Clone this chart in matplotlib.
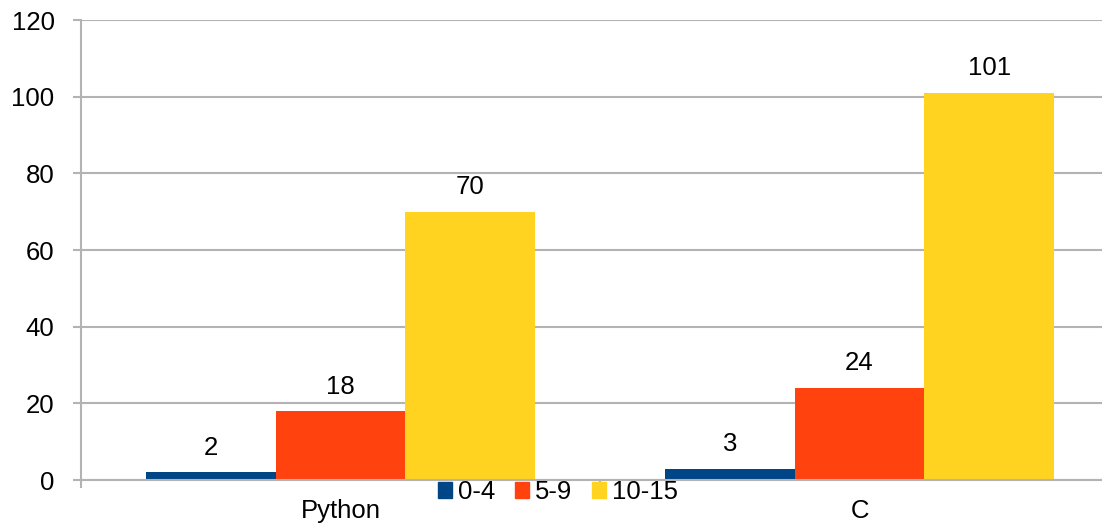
import matplotlib.pyplot as plt
from matplotlib.patches import Patch
import numpy as np

plt.rcParams['font.family'] = ['Liberation Sans', 'DejaVu Sans']
plt.rcParams['font.size'] = 18.5

languages = ['Python', 'C']
groups = ['0-4', '5-9', '10-15']
counts = {
    '0-4': [2, 3],
    '5-9': [18, 24],
    '10-15': [70, 101],
}
colors = ['#004586', '#ff420e', '#ffd320']
grid_col = '#b3b3b3'

fig = plt.figure(figsize=(11.02, 5.28), dpi=100)
# plot area runs a little past the right edge of the canvas
ax = fig.add_axes([81/1102, 48/528, 1038/1102, 460/528])

width = 0.25
centers = np.arange(len(languages)) + 0.5
for i, (g, c) in enumerate(zip(groups, colors)):
    xs = centers + (i - 1) * width
    ax.bar(xs, counts[g], width=width, color=c, zorder=3)
    for x, v in zip(xs, counts[g]):
        ax.annotate(str(v), xy=(x, v), xytext=(0, 9), textcoords='offset points',
                    ha='center', va='bottom')

ax.set_xlim(0, len(languages))
ax.set_ylim(0, 120)
ax.set_yticks(range(0, 121, 20))
ax.yaxis.grid(True, color=grid_col, lw=1.5, zorder=0)

ax.set_xticks(np.arange(len(languages) + 1))
ax.set_xticklabels([])
ax.set_xticks(centers, minor=True)
ax.set_xticklabels(languages, minor=True)
ax.tick_params(axis='x', which='minor', length=0, pad=14)
ax.tick_params(axis='x', which='major', length=6, color=grid_col, width=1.5)
ax.tick_params(axis='y', length=6, color=grid_col, width=1.5, pad=13)

for side in ['top', 'right']:
    ax.spines[side].set_visible(False)
for side in ['left', 'bottom']:
    ax.spines[side].set_color(grid_col)
    ax.spines[side].set_linewidth(1.5)
ax.spines['bottom'].set_zorder(4)

handles = [Patch(color=c, label=g) for g, c in zip(groups, colors)]
fig.legend(handles=handles, loc='center', bbox_to_anchor=(558/1102, 1 - 492/528),
           ncol=3, frameon=False, handlelength=0.55, handleheight=0.55,
           handletextpad=0.25, columnspacing=0.75, borderpad=0)

fig.savefig('out.png', dpi=100)
